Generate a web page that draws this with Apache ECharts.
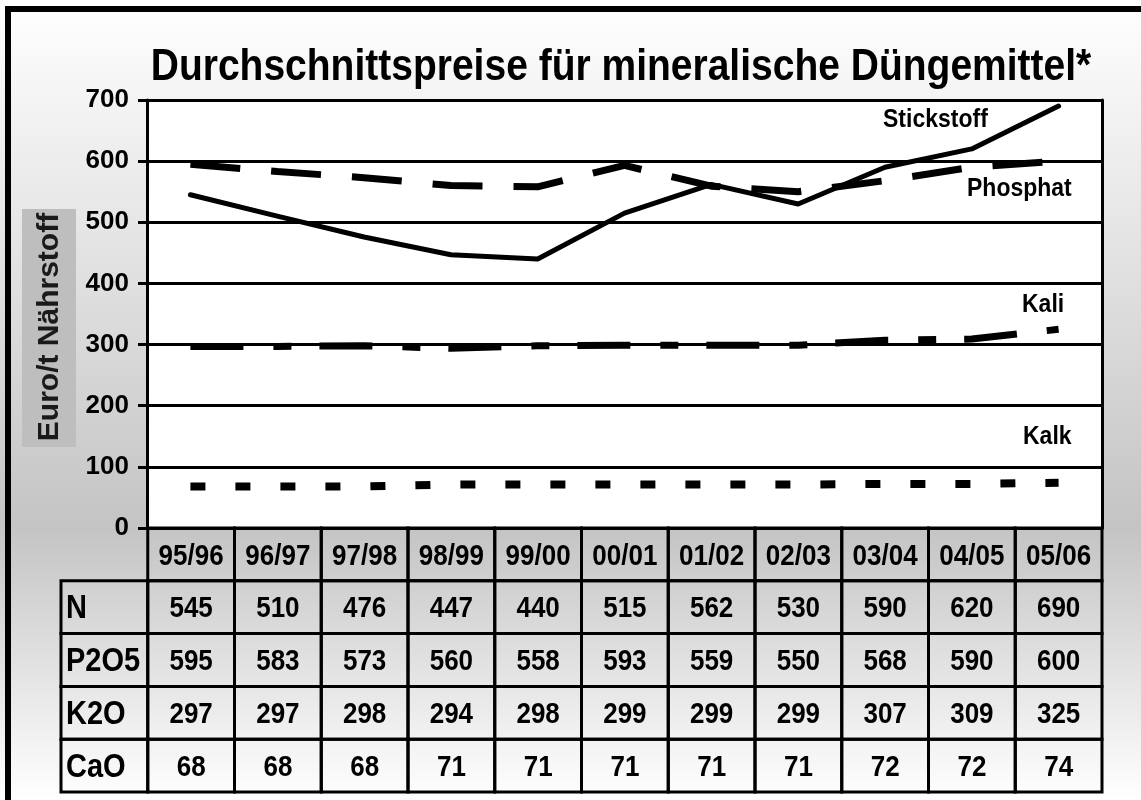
<!DOCTYPE html>
<html>
<head>
<meta charset="utf-8">
<script src="https://cdn.jsdelivr.net/npm/echarts@6/dist/echarts.min.js"></script>
<style>html,body{margin:0;padding:0;background:#fff}#c{width:1141px;height:800px}</style>
</head>
<body>
<div id="c"></div>
<script>
const categories = ['95/96','96/97','97/98','98/99','99/00','00/01','01/02','02/03','03/04','04/05','05/06'];
const seriesNames = ['Stickstoff','Phosphat','Kali','Kalk'];
const rowLabels = ['N','P2O5','K2O','CaO'];
const nValues = [545,510,476,447,440,515,562,530,590,620,690];
const pValues = [595,583,573,560,558,593,559,550,568,590,600];
const kValues = [297,297,298,294,298,299,299,299,307,309,325];
const caValues = [68,68,68,71,71,71,71,71,72,72,74];
const yMin = 0, yMax = 700, yInterval = 100;

const rowValues = [nValues, pValues, kValues, caValues];
const FONT = '"Liberation Sans", Arial, sans-serif';
const SY = 1.15;

// table cells built from the arrays
const cells = [];
categories.forEach((c, i) => cells.push({pos: [i + 1, 0], text: c, align: 'center'}));
rowLabels.forEach((r, ri) => {
  cells.push({pos: [0, ri + 1], text: r, align: 'left'});
  rowValues[ri].forEach((v, ci) => cells.push({pos: [ci + 1, ri + 1], text: String(v), align: 'center'}));
});

function label(text, x, y, size) {
  return {type: 'text', z: 10, x: x, y: y, scaleY: SY,
    style: {text: text, x: 0, y: 0, verticalAlign: 'middle', fontSize: size, fontWeight: 'bold', fontFamily: FONT, fill: '#000'}};
}

const chart = echarts.init(document.getElementById('c'), null, {renderer: 'canvas'});
const option = {
  animation: false,
  backgroundColor: {
    type: 'linear', x: 0, y: 0, x2: 0, y2: 1,
    colorStops: [
      {offset: 0, color: '#ffffff'},
      {offset: 0.1, color: '#f6f6f6'},
      {offset: 0.66, color: '#c4c4c4'},
      {offset: 1, color: '#ffffff'}
    ]
  },
  grid: [
    {left: 147, right: 39, top: 100, height: 428, show: true, backgroundColor: '#ffffff', borderWidth: 0},
    {left: 61, right: 39, top: 528, bottom: 8, show: false}
  ],
  xAxis: [
    {type: 'category', gridIndex: 0, data: categories, boundaryGap: true,
     axisLine: {show: true, lineStyle: {color: '#000', width: 3}}, axisTick: {show: false}, axisLabel: {show: false}},
    {type: 'category', gridIndex: 1, data: [''].concat(categories), boundaryGap: true,
     axisLine: {show: false}, axisTick: {show: false}, axisLabel: {show: false}}
  ],
  yAxis: [
    {type: 'value', gridIndex: 0, min: yMin, max: yMax, interval: yInterval,
     axisLine: {show: true, lineStyle: {color: '#000', width: 3}},
     axisTick: {show: true, length: 9, lineStyle: {color: '#000', width: 3}},
     axisLabel: {color: '#000', fontSize: 26, fontWeight: 'bold', fontFamily: FONT, margin: 18},
     splitLine: {show: true, lineStyle: {color: '#000', width: 3}}},
    {type: 'value', gridIndex: 0, position: 'right', min: yMin, max: yMax, interval: yInterval,
     axisLine: {show: true, lineStyle: {color: '#000', width: 3}},
     axisTick: {show: false}, axisLabel: {show: false}, splitLine: {show: false}},
    {type: 'category', gridIndex: 1, inverse: true, data: [''].concat(rowLabels),
     axisLine: {show: false}, axisTick: {show: false}, axisLabel: {show: false}}
  ],
  series: [
    {name: seriesNames[0], type: 'line', data: nValues, showSymbol: false, symbol: 'none',
     lineStyle: {color: '#000', width: 5, cap: 'round', join: 'round'}, z: 5},
    {name: seriesNames[1], type: 'line', data: pValues, showSymbol: false, symbol: 'none',
     lineStyle: {color: '#000', width: 7, type: [50, 31], cap: 'butt'}, z: 4},
    {name: seriesNames[2], type: 'line', data: kValues, showSymbol: false, symbol: 'none',
     lineStyle: {color: '#000', width: 7, type: [53, 30, 18, 28], cap: 'butt'}, z: 4},
    {name: seriesNames[3], type: 'line', data: caValues, showSymbol: false, symbol: 'none',
     lineStyle: {color: '#000', width: 8, type: [15, 30], cap: 'butt'}, z: 4},
    {type: 'custom', xAxisIndex: 1, yAxisIndex: 2, coordinateSystem: 'cartesian2d',
     data: cells.map(c => c.pos),
     renderItem: function (params, api) {
       const cell = cells[params.dataIndex];
       const p = api.coord([api.value(0), api.value(1)]);
       const s = api.size([1, 1]);
       const x = p[0] - s[0] / 2, y = p[1] - s[1] / 2;
       const left = cell.align === 'left';
       return {type: 'group', children: [
         {type: 'rect', shape: {x: x, y: y, width: s[0], height: s[1]},
          style: {fill: 'none', stroke: '#000', lineWidth: 3}},
         {type: 'text', x: left ? x + 5 : p[0], y: p[1] + 2, scaleY: SY,
          style: {text: cell.text, x: 0, y: 0,
          align: cell.align, verticalAlign: 'middle', fill: '#000',
          fontSize: left ? 29 : 26, fontWeight: 'bold', fontFamily: FONT}}
       ]};
     }, z: 6}
  ],
  graphic: [
    {type: 'rect', shape: {x: 5, y: 6, width: 1136, height: 6}, style: {fill: '#000'}},
    {type: 'rect', shape: {x: 5, y: 6, width: 6, height: 794}, style: {fill: '#000'}},
    {type: 'text', x: 621, y: 68, scaleY: SY,
     style: {text: 'Durchschnittspreise für mineralische Düngemittel*', x: 0, y: 0,
      align: 'center', verticalAlign: 'middle', fontSize: 39, fontWeight: 'bold', fontFamily: FONT, fill: '#000'}},
    {type: 'rect', shape: {x: 22, y: 209, width: 54, height: 238}, style: {fill: '#bebebe'}},
    {type: 'text', x: 50, y: 327, rotation: Math.PI / 2,
     style: {text: 'Euro/t Nährstoff', x: 0, y: 0, align: 'center', verticalAlign: 'middle',
      fontSize: 30, fontWeight: 'bold', fontFamily: FONT, fill: '#1a1a1a'}},
    label(seriesNames[0], 883, 120, 23),
    label(seriesNames[1], 967, 189, 23),
    label(seriesNames[2], 1022, 305, 23),
    label(seriesNames[3], 1023, 437, 23)
  ]
};
chart.setOption(option);
</script>
</body>
</html>
